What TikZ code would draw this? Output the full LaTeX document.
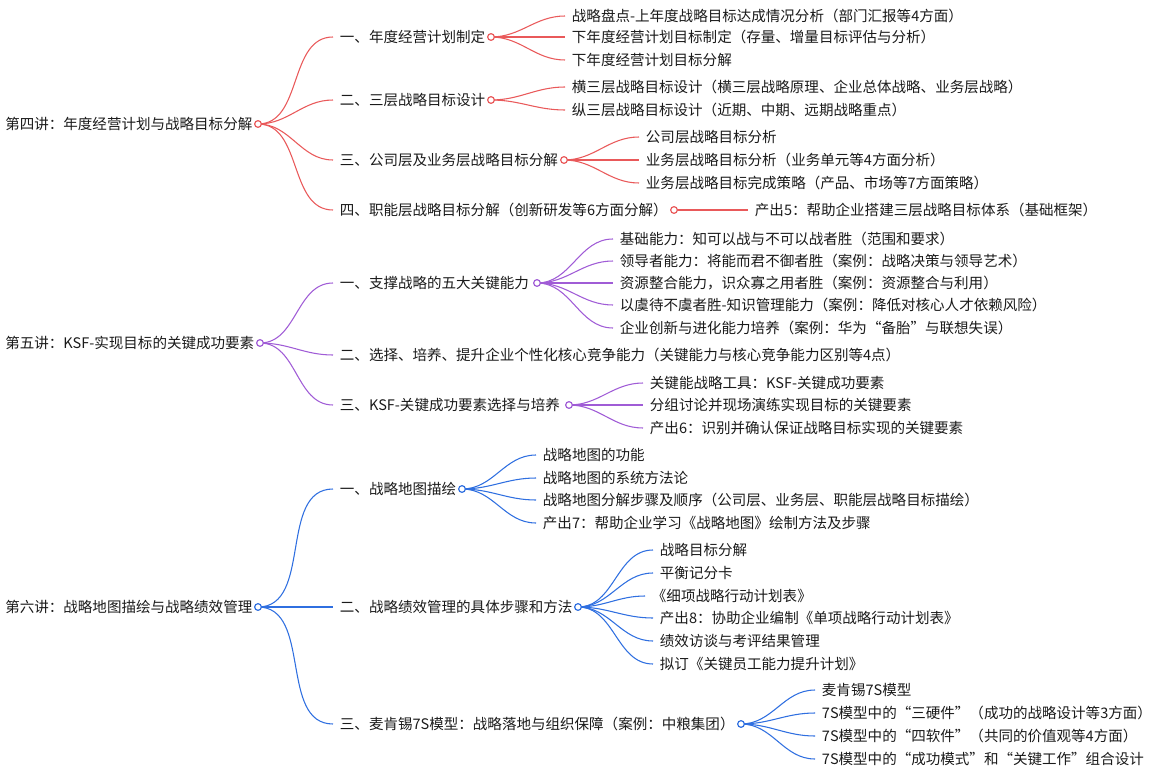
\documentclass[tikz,border=0pt]{standalone}
\usepackage{fontspec}
\setmainfont{Noto Sans CJK SC}
\usetikzlibrary{positioning}
\definecolor{redline}{HTML}{E9595A}
\definecolor{purpleline}{HTML}{A05CD6}
\definecolor{blueline}{HTML}{2F6FE0}
\definecolor{textcol}{HTML}{1A1A1A}
\begin{document}
\begin{tikzpicture}[x=0.75pt,y=-0.75pt,%
    topic/.style={%
        anchor=west,
        inner sep=0pt,
        text=textcol,
        font=\fontsize{10.9}{12}\selectfont
    },
    leaf/.style={%
        anchor=west,
        inner xsep=5pt,
        inner ysep=0pt,
        text=textcol,
        font=\fontsize{10.9}{12}\selectfont
    },
    knot/.style={%
        draw,
        circle,
        fill=white,
        inner sep=0pt,
        minimum size=5pt,
        line width=0.9pt
    },
    link/.style={%
        line width=0.8pt,
        out=0,
        in=180
    }
]
\useasboundingbox (0,0) rectangle (1159,781);

% Lecture 4
    \node[topic] (lec4) at (5,124) {第四讲：年度经营计划与战略目标分解};
    \node[leaf] (p41) at (333,37) {一、年度经营计划制定};
    \node[leaf] (p42) at (333,100) {二、三层战略目标设计};
    \node[leaf] (p43) at (333,160) {三、公司层及业务层战略目标分解};
    \node[leaf] (p44) at (333,210) {四、职能层战略目标分解（创新研发等6方面分解）};
    \node[leaf] (l411) at (565,16) {战略盘点-上年度战略目标达成情况分析（部门汇报等4方面）};
    \node[leaf] (l412) at (565,37) {下年度经营计划目标制定（存量、增量目标评估与分析）};
    \node[leaf] (l413) at (565,60) {下年度经营计划目标分解};
    \node[leaf] (l421) at (565,87) {横三层战略目标设计（横三层战略原理、企业总体战略、业务层战略）};
    \node[leaf] (l422) at (565,110) {纵三层战略目标设计（近期、中期、远期战略重点）};
    \node[leaf] (l431) at (639,137) {公司层战略目标分析};
    \node[leaf] (l432) at (639,160) {业务层战略目标分析（业务单元等4方面分析）};
    \node[leaf] (l433) at (639,183) {业务层战略目标完成策略（产品、市场等7方面策略）};
    \node[leaf] (l441) at (748,210) {产出5：帮助企业搭建三层战略目标体系（基础框架）};

% Lecture 5
    \node[topic] (lec5) at (5,343) {第五讲：KSF-实现目标的关键成功要素};
    \node[leaf] (p51) at (333,283) {一、支撑战略的五大关键能力};
    \node[leaf] (p52) at (333,355) {二、选择、培养、提升企业个性化核心竞争能力（关键能力与核心竞争能力区别等4点）};
    \node[leaf] (p53) at (333,405) {三、KSF-关键成功要素选择与培养};
    \node[leaf] (l511) at (613,239) {基础能力：知可以战与不可以战者胜（范围和要求）};
    \node[leaf] (l512) at (613,261) {领导者能力：将能而君不御者胜（案例：战略决策与领导艺术）};
    \node[leaf] (l513) at (613,283) {资源整合能力，识众寡之用者胜（案例：资源整合与利用）};
    \node[leaf] (l514) at (613,305) {以虞待不虞者胜-知识管理能力（案例：降低对核心人才依赖风险）};
    \node[leaf] (l515) at (613,328) {企业创新与进化能力培养（案例：华为“备胎”与联想失误）};
    \node[leaf] (l531) at (643,383) {关键能战略工具：KSF-关键成功要素};
    \node[leaf] (l532) at (643,405) {分组讨论并现场演练实现目标的关键要素};
    \node[leaf] (l533) at (643,428) {产出6：识别并确认保证战略目标实现的关键要素};

% Lecture 6
    \node[topic] (lec6) at (5,607) {第六讲：战略地图描绘与战略绩效管理};
    \node[leaf] (p61) at (333,489) {一、战略地图描绘};
    \node[leaf] (p62) at (333,607) {二、战略绩效管理的具体步骤和方法};
    \node[leaf] (p63) at (333,724) {三、麦肯锡7S模型：战略落地与组织保障（案例：中粮集团）};
    \node[leaf] (l611) at (536,455) {战略地图的功能};
    \node[leaf] (l612) at (536,478) {战略地图的系统方法论};
    \node[leaf] (l613) at (536,500) {战略地图分解步骤及顺序（公司层、业务层、职能层战略目标描绘）};
    \node[leaf] (l614) at (536,523) {产出7：帮助企业学习《战略地图》绘制方法及步骤};
    \node[leaf] (l621) at (653,550) {战略目标分解};
    \node[leaf] (l622) at (653,573) {平衡记分卡};
    \node[leaf] (l623) at (645,596) {《细项战略行动计划表》};
    \node[leaf] (l624) at (653,618) {产出8：协助企业编制《单项战略行动计划表》};
    \node[leaf] (l625) at (653,641) {绩效访谈与考评结果管理};
    \node[leaf] (l626) at (653,664) {拟订《关键员工能力提升计划》};
    \node[leaf] (l631) at (815,690) {麦肯锡7S模型};
    \node[leaf] (l632) at (815,713) {7S模型中的“三硬件”（成功的战略设计等3方面）};
    \node[leaf] (l633) at (815,736) {7S模型中的“四软件”（共同的价值观等4方面）};
    \node[leaf] (l634) at (815,759) {7S模型中的“成功模式”和“关键工作”组合设计};

% Arrows
\begin{scope}[redline]
    \foreach \p in {p41,p42,p43,p44} \draw[link] (258,124) to (\p.west);
    \foreach \l in {l411,l412,l413} \draw[link] (491,37) to (\l.west);
    \foreach \l in {l421,l422} \draw[link] (491,100) to (\l.west);
    \foreach \l in {l431,l432,l433} \draw[link] (564,160) to (\l.west);
    \draw[link] (674,210) to (l441.west);
    \node[knot] (k4) at (258,124) {};
    \node[knot] (k41) at (491,37) {};
    \node[knot] (k42) at (491,100) {};
    \node[knot] (k43) at (564,160) {};
    \node[knot] (k44) at (674,210) {};
\end{scope}

\begin{scope}[purpleline]
    \foreach \p in {p51,p52,p53} \draw[link] (260,343) to (\p.west);
    \foreach \l in {l511,l512,l513,l514,l515} \draw[link] (537,283) to (\l.west);
    \foreach \l in {l531,l532,l533} \draw[link] (569,405) to (\l.west);
    \node[knot] (k5) at (260,343) {};
    \node[knot] (k51) at (537,283) {};
    \node[knot] (k53) at (569,405) {};
\end{scope}

\begin{scope}[blueline]
    \foreach \p in {p61,p62,p63} \draw[link] (258,607) to (\p.west);
    \foreach \l in {l611,l612,l613,l614} \draw[link] (462,489) to (\l.west);
    \foreach \l in {l621,l622,l623,l624,l625,l626} \draw[link] (578,607) to (\l.west);
    \foreach \l in {l631,l632,l633,l634} \draw[link] (741,724) to (\l.west);
    \node[knot] (k6) at (258,607) {};
    \node[knot] (k61) at (462,489) {};
    \node[knot] (k62) at (578,607) {};
    \node[knot] (k63) at (741,724) {};
\end{scope}

\end{tikzpicture}
\end{document}
